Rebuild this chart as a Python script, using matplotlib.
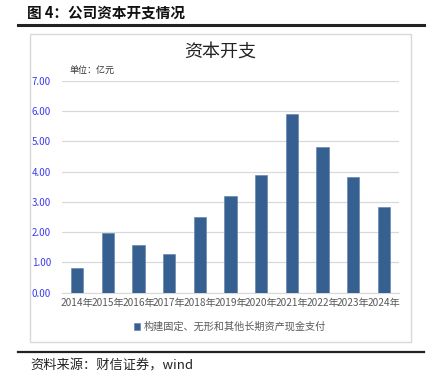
import matplotlib
matplotlib.use("Agg")
import matplotlib.pyplot as plt
from matplotlib.patches import Rectangle
from matplotlib.lines import Line2D

plt.rcParams['font.family'] = ['Noto Sans CJK SC', 'DejaVu Sans']

years = ["2014年", "2015年", "2016年", "2017年", "2018年", "2019年",
         "2020年", "2021年", "2022年", "2023年", "2024年"]
capex = [0.82, 1.97, 1.58, 1.28, 2.49, 3.19, 3.88, 5.91, 4.83, 3.81, 2.82]
yticks = [0, 1, 2, 3, 4, 5, 6, 7]
series_name = "构建固定、无形和其他长期资产现金支付"

W, H = 437, 376
fig = plt.figure(figsize=(W / 100, H / 100), dpi=100)

def fx(px):
    return px / W

def fy(py):
    return 1 - py / H

# header and footer
fig.text(fx(27), fy(13), "图 4：公司资本开支情况", fontsize=10.5, fontweight='bold',
         va='center', ha='left', color='#111111')
fig.add_artist(Line2D([fx(18), fx(424)], [fy(25), fy(25)], color='#222222', lw=2.2))
fig.add_artist(Line2D([fx(18), fx(424)], [fy(351.5), fy(351.5)], color='#222222', lw=1.6))
fig.text(fx(30), fy(366), "资料来源：财信证券，wind", fontsize=9.5, style='italic',
         va='center', ha='left', color='#222222')

# chart frame
fig.add_artist(Rectangle((fx(29.5), fy(341.5)), fx(410.5) - fx(29.5), fy(33.5) - fy(341.5),
                         fill=False, edgecolor='#d9d9d9', lw=1.0))

fig.text(fx(220), fy(52), "资本开支", fontsize=13, va='center', ha='center', color='#222222')
fig.text(fx(70), fy(70), "单位：亿元", fontsize=6.5, va='center', ha='left', color='#333333')

ax = fig.add_axes([fx(62), fy(292.7), fx(399) - fx(62), fy(81) - fy(292.7)])
x = range(len(years))
ax.bar(x, capex, width=0.4, color='#35608f', edgecolor='#5b7fae', linewidth=0.4,
       label=series_name, zorder=3)
ax.set_ylim(0, 7)
ax.set_xlim(-0.5, len(years) - 0.5)
ax.set_yticks(yticks)
ax.set_yticklabels([f"{v:.2f}" for v in yticks], fontsize=7, color='#3b3bf0')
ax.set_xticks(list(x))
ax.set_xticklabels(years, fontsize=7.3, color='#595959')
ax.grid(axis='y', color='#d9d9d9', lw=0.9, zorder=0)
for s in ['top', 'right', 'left']:
    ax.spines[s].set_visible(False)
ax.spines['bottom'].set_color('#d9d9d9')
ax.tick_params(axis='both', length=0, pad=4)
ax.tick_params(axis='y', pad=8)

leg = fig.legend(loc='center', bbox_to_anchor=(fx(230), fy(327)), frameon=False,
                 fontsize=7.3, handlelength=0.6, handleheight=0.6, handletextpad=0.3)
for t in leg.get_texts():
    t.set_color('#595959')

fig.savefig("out.png", dpi=100)
